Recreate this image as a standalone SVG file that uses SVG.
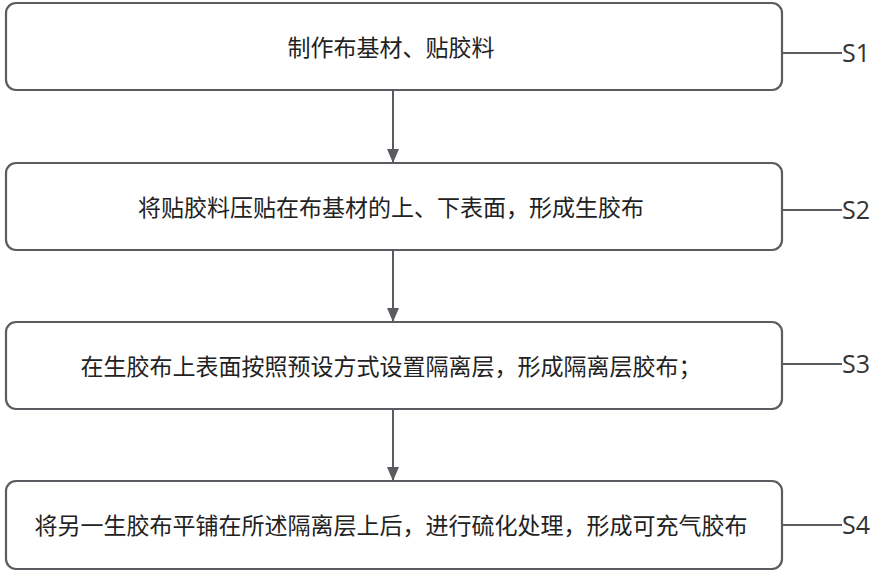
<svg xmlns="http://www.w3.org/2000/svg" width="885" height="579" viewBox="0 0 885 579">
<style>
.box{fill:#fff;stroke:#5b5b61;stroke-width:2.2}
.t{font-family:"Noto Sans CJK SC","Noto Sans",sans-serif;font-size:23px;fill:#222;text-anchor:middle;dominant-baseline:central}
.s{font-family:"Open Sans","Noto Sans",sans-serif;font-size:25px;fill:#333;dominant-baseline:central}
.ln{stroke:#5b5b61;stroke-width:2;fill:none}
</style>
<defs><marker id="ah" markerWidth="14" markerHeight="12" refX="14" refY="6" orient="auto" markerUnits="userSpaceOnUse"><path d="M0,0L14,6L0,12z" fill="#5b5b61"/></marker></defs>
<rect width="885" height="579" fill="#fff"/>
<g id="n1"><rect class="box" x="6" y="3" width="776" height="87" rx="10"/><text class="t" x="391" y="46">制作布基材、贴胶料</text></g>
<g id="n2"><rect class="box" x="6" y="163" width="776" height="87" rx="10"/><text class="t" x="391" y="206">将贴胶料压贴在布基材的上、下表面，形成生胶布</text></g>
<g id="n3"><rect class="box" x="6" y="322" width="776" height="87" rx="10"/><text class="t" x="391" y="365">在生胶布上表面按照预设方式设置隔离层，形成隔离层胶布；</text></g>
<g id="n4"><rect class="box" x="6" y="481" width="776" height="88" rx="10"/><text class="t" x="391" y="524">将另一生胶布平铺在所述隔离层上后，进行硫化处理，形成可充气胶布</text></g>
<g id="connectors">
<line class="ln" x1="393" y1="90" x2="393" y2="163" marker-end="url(#ah)"/>
<line class="ln" x1="393" y1="250" x2="393" y2="322" marker-end="url(#ah)"/>
<line class="ln" x1="393" y1="409" x2="393" y2="481" marker-end="url(#ah)"/>
<line class="ln" x1="782" y1="53" x2="842" y2="53"/>
<line class="ln" x1="782" y1="210" x2="842" y2="210"/>
<line class="ln" x1="782" y1="364" x2="842" y2="364"/>
<line class="ln" x1="782" y1="525" x2="842" y2="525"/>
</g>
<text class="s" x="842" y="52">S1</text>
<text class="s" x="842" y="209">S2</text>
<text class="s" x="842" y="363">S3</text>
<text class="s" x="842" y="524">S4</text>
</svg>
